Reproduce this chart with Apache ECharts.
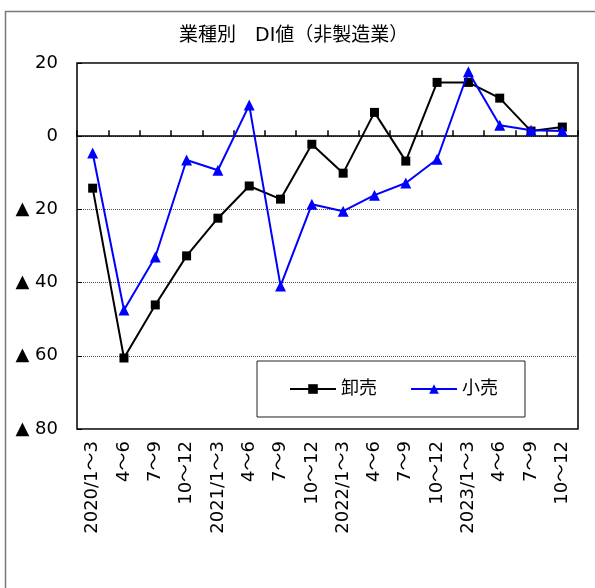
<!DOCTYPE html>
<html>
<head>
<meta charset="utf-8">
<script src="https://cdn.jsdelivr.net/npm/echarts@6/dist/echarts.min.js"></script>
<style>
html,body{margin:0;padding:0;background:#fff;}
#chart{width:595px;height:588px;}
</style>
</head>
<body>
<div id="chart"></div>
<script>
// 業種別 DI値（非製造業）
var categories = ['2020/1～3','4～6','7～9','10～12','2021/1～3','4～6','7～9','10～12',
    '2022/1～3','4～6','7～9','10～12','2023/1～3','4～6','7～9','10～12'];
var oroshiuri = [-14.2, -60.6, -46.1, -32.7, -22.4, -13.6, -17.2, -2.2,
    -10.1, 6.5, -6.8, 14.7, 14.7, 10.4, 1.4, 2.5];
var kouri = [-4.6, -47.5, -33.0, -6.5, -9.3, 8.5, -40.9, -18.6,
    -20.5, -16.1, -12.8, -6.3, 17.6, 3.0, 1.6, 1.4];
var seriesNames = ['卸売', '小売'];

var font = 'DejaVu Sans, "Noto Sans CJK JP", sans-serif';

(function(){
    var chart = echarts.init(document.getElementById('chart'));
    var option = {
        animation: false,
        backgroundColor: '#fff',
        textStyle: {fontFamily: font, color: '#000'},
        graphic: [{
            type: 'rect',
            shape: {x: 5.5, y: 11.5, width: 600, height: 600},
            style: {fill: 'none', stroke: '#777', lineWidth: 1.5},
            silent: true
        }],
        title: {
            text: '業種別　DI値（非製造業）',
            left: 174,
            top: 22,
            textStyle: {fontFamily: font, fontSize: 19, fontWeight: 'normal', color: '#000'}
        },
        legend: {
            data: seriesNames,
            left: 257,
            top: 361,
            padding: [19, 27, 19, 32],
            itemGap: 33,
            itemWidth: 46,
            itemHeight: 12,
            borderColor: '#222',
            borderWidth: 1,
            backgroundColor: '#fff',
            textStyle: {fontFamily: font, fontSize: 18, color: '#000'}
        },
        grid: {
            left: 77, right: 17, top: 63, bottom: 159,
            show: true, borderColor: '#000', borderWidth: 1.5
        },
        xAxis: [{
            type: 'category',
            data: categories,
            position: 'bottom',
            boundaryGap: true,
            axisLine: {show: false, onZero: false},
            axisTick: {show: false},
            axisLabel: {
                rotate: 90, margin: 12, interval: 0,
                fontFamily: font, fontSize: 18, color: '#000'
            },
            splitLine: {show: false}
        }, {
            type: 'category',
            data: categories,
            position: 'bottom',
            boundaryGap: true,
            axisLine: {show: true, onZero: true, lineStyle: {color: '#000', width: 1.5}},
            axisTick: {show: true, inside: true, length: 6, interval: 0, lineStyle: {color: '#000', width: 1.5}},
            axisLabel: {show: false},
            splitLine: {show: false}
        }],
        yAxis: {
            type: 'value',
            min: -80, max: 20, interval: 20,
            axisLine: {show: false},
            axisTick: {show: true, inside: true, length: 5, lineStyle: {color: '#000'}},
            axisLabel: {
                margin: 19, fontFamily: font, fontSize: 18, color: '#000',
                formatter: function(v){ return v < 0 ? '▲ ' + (-v) : String(v); }
            },
            splitLine: {show: true, lineStyle: {color: '#555', type: [1, 1], width: 1}}
        },
        series: [{
            name: seriesNames[0],
            type: 'line',
            data: oroshiuri,
            symbol: 'rect',
            symbolSize: 9,
            color: '#000',
            lineStyle: {color: '#000', width: 2},
            itemStyle: {color: '#000'},
            z: 3
        }, {
            name: seriesNames[1],
            type: 'line',
            data: kouri,
            symbol: 'triangle',
            symbolSize: 11,
            color: '#0000ff',
            lineStyle: {color: '#0000ff', width: 2},
            itemStyle: {color: '#0000ff'},
            z: 4
        }]
    };
    chart.setOption(option);
})();
</script>
</body>
</html>
